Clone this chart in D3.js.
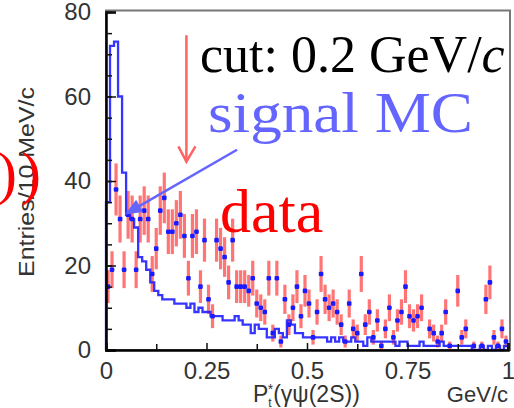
<!DOCTYPE html>
<html>
<head>
<meta charset="utf-8">
<script src="https://cdn.jsdelivr.net/npm/d3@7"></script>
<style>
  body { margin: 0; background: #fff; }
  svg { display: block; }
</style>
</head>
<body>
<div id="chart"></div>
<script>
// 10 MeV/c bins from 0 to 1 GeV/c
const binWidth = 0.01;

// signal MC histogram (blue line), entries per bin
const mcCounts = [
  35, 72, 73, 60, 42, 32, 31, 29, 22, 21,
  19, 16, 14, 13, 12, 12, 12, 11, 11, 11,
  10, 11, 9, 10, 9, 9, 8, 8, 8, 7,
  7, 7, 8, 7, 6, 6, 4, 6, 5, 5,
  3, 3, 5, 4, 3, 7, 6, 4, 4, 3,
  3, 3, 3, 3, 3, 2, 3, 2, 3, 2,
  2, 3, 2, 2, 1, 3, 2, 2, 2, 2,
  2, 2, 1, 2, 2, 1, 1, 1, 2, 1,
  1, 1, 1, 2, 1, 1, 1, 1, 1, 1,
  1, 0, 0, 1, 0, 1, 0, 1, 0, 1
];

// data points, entries per bin (errors are sqrt(N))
const dataCounts = [
  15, 19, 38, 31, 19, 32, 31, 19, 31, 33,
  31, 18, 24, 33, 36, 28, 28, 30, 32, 27,
  17, 27, 28, 15, 26, 12, 8, 26, 24, 22,
  16, 26, 15, 15, 15, 14, 17, 11, 10, 9,
  17, 4, 17, 2, 12, 6, 10, 15, 8, 14,
  11, 3, 9, 18, 12, 10, 11, 9, 6, 2,
  11, 5, 4, 18, 6, 9, 3, 7, 1, 5,
  10, 3, 7, 9, 15, 8, 7, 8, 10, 0,
  5, 4, 2, 4, 9, 1, 0, 14, 3, 5,
  0, 1, 0, 1, 12, 16, 3, 1, 5, 2
];

const yTicks = [0, 20, 40, 60, 80];
const xTicks = [0, 0.25, 0.5, 0.75, 1];
const xTickLabels = ["0", "0.25", "0.5", "0.75", "1"];
const cutValue = 0.2;

const width = 514, height = 408;
const margin = { top: 12, right: 6, bottom: 58, left: 106 };

const svg = d3.select("#chart").append("svg")
  .attr("width", width)
  .attr("height", height);

const x = d3.scaleLinear().domain([0, 1]).range([margin.left, width - margin.right]);
const y = d3.scaleLinear().domain([0, 80]).range([height - margin.bottom, margin.top]);

// frame (top/right in grey)
svg.append("rect")
  .attr("x", x(0)).attr("y", y(80) - 1.5)
  .attr("width", x(1) - x(0) + 2).attr("height", y(0) - y(80) + 1.5)
  .attr("fill", "none")
  .attr("stroke", "#777")
  .attr("stroke-width", 2);

// data error bars
const pts = dataCounts.map((c, i) => ({ v: (i + 0.5) * binWidth, c: c, e: Math.sqrt(c) }))
  .filter(d => d.c > 0);

svg.append("g").selectAll("line")
  .data(pts)
  .enter()
  .append("line")
  .attr("x1", d => x(d.v)).attr("x2", d => x(d.v))
  .attr("y1", d => y(d.c - d.e)).attr("y2", d => y(d.c + d.e))
  .attr("stroke", "#ff3b3b")
  .attr("stroke-opacity", 0.7)
  .attr("stroke-width", 3.2);

svg.append("g").selectAll("rect")
  .data(pts)
  .enter()
  .append("rect")
  .attr("x", d => x(d.v) - 2.3).attr("y", d => y(d.c) - 2.3)
  .attr("width", 4.6).attr("height", 4.6)
  .attr("rx", 1.2)
  .attr("fill", "#1a1aff");

// signal MC histogram
const steps = [[0, 0]];
mcCounts.forEach((c, i) => { steps.push([i * binWidth, c]); steps.push([(i + 1) * binWidth, c]); });
steps.push([1, 0]);

svg.append("path")
  .datum(steps)
  .attr("fill", "none")
  .attr("stroke", "#1f1fff")
  .attr("stroke-width", 2.3)
  .attr("stroke-opacity", 0.9)
  .attr("d", d3.line().x(d => x(d[0])).y(d => y(d[1])));

// axes, ticks pointing inside
const axisFont = "'Liberation Sans', Arial, sans-serif";

const yAxis = svg.append("g")
  .attr("transform", `translate(${x(0)},0)`)
  .call(d3.axisLeft(y).tickValues(yTicks).tickSize(-10).tickPadding(15));
svg.append("g")
  .attr("transform", `translate(${x(0)},0)`)
  .call(d3.axisLeft(y).tickValues(d3.range(0, 81, 5)).tickSize(-6).tickFormat(""))
  .call(g => g.select(".domain").remove());

const xAxis = svg.append("g")
  .attr("transform", `translate(0,${y(0)})`)
  .call(d3.axisBottom(x).tickValues(xTicks).tickSize(-7).tickPadding(12)
    .tickFormat((d, i) => xTickLabels[i]));
svg.append("g")
  .attr("transform", `translate(0,${y(0)})`)
  .call(d3.axisBottom(x).tickValues([0.125, 0.375, 0.625, 0.875]).tickSize(-6).tickFormat(""))
  .call(g => g.select(".domain").remove());

svg.selectAll(".tick line").attr("stroke", "#111").attr("stroke-width", 1.5);
[yAxis, xAxis].forEach(g => {
  g.select(".domain").attr("stroke", "#000").attr("stroke-width", 2.5);
  g.selectAll("text")
    .attr("fill", "#333")
    .style("font-family", axisFont)
    .style("font-size", "24px");
});

// axis titles
svg.append("text")
  .attr("transform", `translate(34,${(87 + 277) / 2}) rotate(-90)`)
  .attr("text-anchor", "middle")
  .attr("fill", "#333")
  .style("font-family", axisFont)
  .style("font-size", "22px")
  .attr("textLength", 190)
  .attr("lengthAdjust", "spacingAndGlyphs")
  .text("Entries/10 MeV/c");

const xt = svg.append("text")
  .attr("x", 253).attr("y", 402)
  .attr("fill", "#333")
  .style("font-family", axisFont)
  .style("font-size", "23px");
xt.append("tspan").text("P");
xt.append("tspan").attr("dy", 5).style("font-size", "12px").text("t");
xt.append("tspan").attr("dy", -13).attr("dx", -4).style("font-size", "14px").text("*");
xt.append("tspan").attr("dy", 8).text("(γψ(2S))");

svg.append("text")
  .attr("x", x(1)).attr("y", 402)
  .attr("text-anchor", "end")
  .attr("fill", "#333")
  .style("font-family", axisFont)
  .style("font-size", "22px")
  .text("GeV/c");

// stray red brackets at the left edge
const serif = "'Liberation Serif', 'Times New Roman', serif";
svg.append("g").selectAll("text")
  .data([-3, 21])
  .enter()
  .append("text")
  .attr("x", d => d).attr("y", 193)
  .attr("fill", "#ff0000")
  .style("font-family", serif)
  .style("font-size", "60px")
  .text(")");

// cut arrow
svg.append("line")
  .attr("x1", x(cutValue)).attr("x2", x(cutValue))
  .attr("y1", y(74.5)).attr("y2", y(44.6))
  .attr("stroke", "#ff6464").attr("stroke-width", 2.5);
svg.append("path")
  .attr("d", `M${x(cutValue) - 8},${y(48.2)} L${x(cutValue)},${y(44.6)} L${x(cutValue) + 9},${y(48.2)}`)
  .attr("fill", "none")
  .attr("stroke", "#ff6464").attr("stroke-width", 2.5);

// signal MC arrow
const ax0 = x(0.326), ay0 = y(47.4), ax1 = x(0.047), ay1 = y(32.1);
const ang = Math.atan2(ay1 - ay0, ax1 - ax0);
const hl = 17, hw = 7;
svg.append("line")
  .attr("x1", ax0).attr("y1", ay0)
  .attr("x2", ax1 - Math.cos(ang) * hl * 0.8).attr("y2", ay1 - Math.sin(ang) * hl * 0.8)
  .attr("stroke", "#6464ff").attr("stroke-width", 2.5);
svg.append("path")
  .attr("d", () => {
    const bx = ax1 - Math.cos(ang) * hl, by = ay1 - Math.sin(ang) * hl;
    const px = -Math.sin(ang) * hw, py = Math.cos(ang) * hw;
    return `M${ax1},${ay1} L${bx + px},${by + py} L${bx - px},${by - py} Z`;
  })
  .attr("fill", "#6464ff");

// annotations
const cut = svg.append("text")
  .attr("x", 200).attr("y", 72)
  .attr("fill", "#000")
  .style("font-family", serif)
  .style("font-size", "52px");
cut.append("tspan").text("cut: 0.2 GeV/");
cut.append("tspan").style("font-style", "italic").text("c");

svg.append("text")
  .attr("x", 208).attr("y", 132)
  .attr("fill", "#6464ff")
  .style("font-family", serif)
  .style("font-size", "58px")
  .attr("textLength", 265)
  .attr("lengthAdjust", "spacingAndGlyphs")
  .text("signal MC");

svg.append("text")
  .attr("x", 220).attr("y", 232)
  .attr("fill", "#ff0000")
  .style("font-family", serif)
  .style("font-size", "62px")
  .text("data");
</script>
</body>
</html>
